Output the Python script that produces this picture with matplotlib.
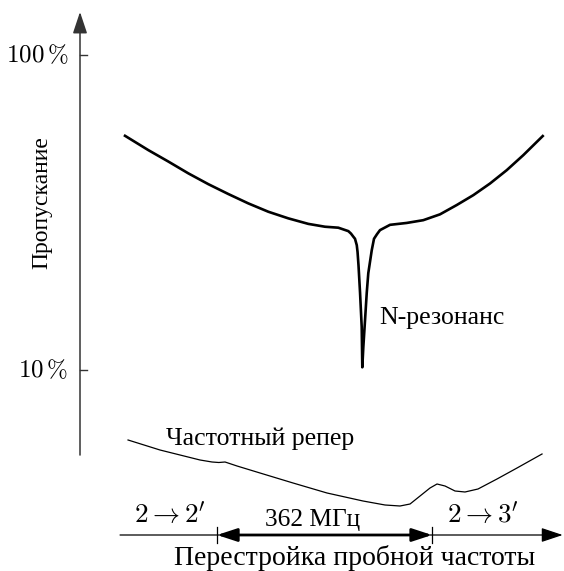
import numpy as np
import matplotlib.pyplot as plt

plt.rcParams['mathtext.fontset'] = 'cm'
serif = ['Liberation Serif', 'DejaVu Serif']

### Data ###
# frequency detuning of the probe (MHz) from the 2 -> 2' line
freq = [-154.9, -115.7, -82.0, -48.3, -14.6, 19.0, 52.7, 86.4, 120.0, 153.7,
        181.8, 204.2, 221.1, 225.6, 229.5, 232.3, 235.3, 236.6, 238.2, 240.8,
        243.6, 244.6, 246.3, 249.2, 252.1, 254.7, 260.5, 264.3, 269.4, 274.4,
        291.3, 319.4, 347.3, 375.4, 403.6, 431.5, 459.7, 487.8, 515.7, 548.4]
# transmission (%) - log axis
trans = [55.4, 49.9, 45.9, 42.1, 38.9, 36.2, 33.8, 31.8, 30.3, 29.1,
         28.5, 28.3, 27.6, 27.1, 26.5, 26.1, 24.9, 23.7, 21.5, 17.6,
         13.7, 10.2, 11.8, 14.4, 17.6, 20.3, 24.0, 26.1, 27.0, 27.8,
         28.9, 29.3, 29.9, 31.2, 33.4, 35.9, 39.1, 43.1, 48.1, 55.3]

# frequency reference signal (arb. units)
ref_freq = [-149.8, -96.0, -28.6, -8.4, 3.0, 13.5, 33.7, 72.4, 128.0, 185.2,
            245.8, 282.9, 308.1, 325.0, 341.8, 358.6, 370.4, 383.9, 400.7,
            417.5, 439.4, 471.4, 505.1, 547.2]
ref_signal = [8.0, 7.0, 6.0, 5.8, 5.75, 5.8, 5.4, 4.7, 3.7, 2.7,
              1.9, 1.5, 1.4, 1.6, 2.4, 3.2, 3.6, 3.4, 2.9,
              2.8, 3.1, 4.1, 5.2, 6.6]

markers = [0, 362]          # 2->2' and 2->3' transitions, MHz
yticks = [100, 10]
ytick_labels = [r'$100\,\%$', r'$10\,\%$']

### Figure ###
fig = plt.figure(figsize=(5.64, 5.71), dpi=100)
ax = fig.add_axes([0, 0, 1, 1])
ax.set_yscale('log')
ax.set_xlim(-365.4, 584.2)
ax.set_ylim(2.301, 149.5)
ax.axis('off')

ax2 = fig.add_axes([0, 0, 1, 1], sharex=ax)
ax2.set_ylim(-5.1, 52)
ax2.axis('off')
ax2.patch.set_alpha(0)

### transmission curve ###
ax.plot(freq, trans, color='black', lw=1.9, solid_joinstyle='round')

### vertical axis with arrow ###
f_axis = -230.7
ax.annotate('', xy=(f_axis, 137), xytext=(f_axis, 5.37),
            arrowprops=dict(arrowstyle='-|>,head_length=0.6,head_width=0.2',
                            mutation_scale=22, lw=1.1, color='#333333',
                            shrinkA=0, shrinkB=0))
for t, lab in zip(yticks, ytick_labels):
    ax.plot([f_axis, f_axis + 12], [t, t], color='#333333', lw=1.0)
    ax.text(f_axis - 20, t, lab, ha='right', va='center', fontsize=18)

ax.text(-294.6, 33.9, 'Пропускание', rotation=90, ha='center', va='center',
        fontsize=17, family=serif)
ax.text(272.8, 14.0, 'N-резонанс', ha='left', va='baseline',
        fontsize=18.5, family=serif)

### reference signal ###
ax2.plot(ref_freq, ref_signal, color='black', lw=0.9)
ax2.text(-85.9, 7.5, 'Частотный репер', ha='left', va='baseline',
         fontsize=18.5, family=serif)

### frequency axis ###
ax2.annotate('', xy=(582, -1.5), xytext=(-163.3, -1.5),
             arrowprops=dict(arrowstyle='-|>,head_length=0.6,head_width=0.2',
                             mutation_scale=22, lw=0.9, color='black',
                             shrinkA=0, shrinkB=0))
for m in markers:
    ax2.plot([m, m], [-0.7, -2.3], color='black', lw=0.9)
ax2.annotate('', xy=(markers[1], -1.5), xytext=(markers[0], -1.5),
             arrowprops=dict(arrowstyle='<|-|>,head_length=0.55,head_width=0.18',
                             mutation_scale=22, lw=2.0, color='black',
                             shrinkA=0, shrinkB=0))

ax2.text(-79.1, -0.2, r"$2 \rightarrow 2'$", ha='center', va='baseline', fontsize=19.5)
ax2.text(447.9, -0.2, r"$2 \rightarrow 3'$", ha='center', va='baseline', fontsize=19.5)
ax2.text(161.6, -0.6, '362 МГц', ha='center', va='baseline', fontsize=18.3, family=serif)
ax2.text(232.3, -4.5, 'Перестройка пробной частоты', ha='center', va='baseline',
         fontsize=20, family=serif)

fig.savefig('out.png', dpi=100)
